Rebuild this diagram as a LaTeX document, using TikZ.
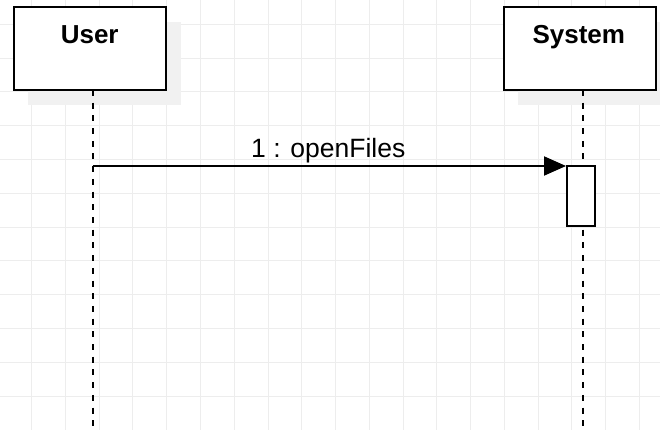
\documentclass[tikz,border=0pt]{standalone}
\usepackage{fontspec}
\setmainfont{Liberation Sans}
\usetikzlibrary{arrows.meta}
\definecolor{gridc}{RGB}{237,237,237}
\definecolor{shadowc}{RGB}{241,241,241}
\begin{document}
\begin{tikzpicture}[x=1pt,y=-1pt,
  actorbox/.style={draw=black, line width=2pt, fill=white, minimum width=152pt, minimum height=83pt, inner sep=0pt},
  actbox/.style={draw=black, line width=2pt, fill=white, minimum width=28pt, minimum height=60pt, inner sep=0pt},
  lifeline/.style={line width=2pt, dash pattern=on 6pt off 6.7pt},
  msg/.style={line width=2pt, -{Triangle[length=22pt,width=19pt]}},
  titletext/.style={font=\bfseries\fontsize{26}{30}\selectfont, anchor=base, inner sep=0pt},
  msglabel/.style={font=\fontsize{26.5}{30}\selectfont, anchor=base, inner sep=0pt},
  gridline/.style={draw=gridc, line width=1pt}]
\useasboundingbox (0,0) rectangle (660,430);
\fill[white] (0,0) rectangle (660,430);
% grid
\foreach \i in {1,...,19} { \draw[gridline] ({-2.06+33.76*\i},0) -- ({-2.06+33.76*\i},430); }
\foreach \j in {1,...,12} { \draw[gridline] (0,{-9.5+33.8*\j}) -- (660,{-9.5+33.8*\j}); }
% shadows
\fill[shadowc] (28.3,21.7) rectangle (180.7,105);
\fill[shadowc] (518.3,22.3) rectangle (671,105);
% actor boxes
\node[actorbox] (user) at (89.5,48.4) {};
\node[actorbox] (system) at (579.7,48.6) {};
\node[titletext] (usertxt) at (89.7,43.3) {User};
\node[titletext] (systemtxt) at (578.8,43.3) {System};
% lifelines
\coordinate (uTop) at (92.7,90);
\coordinate (uBot) at (92.7,432);
\coordinate (sTop) at (583.3,90);
\coordinate (sBot) at (583.3,432);
\draw[lifeline] (uTop) -- (uBot);
\draw[lifeline] (sTop) -- (sBot);
% activation
\node[actbox] (act) at (581,196) {};
% message
\coordinate (m1start) at (92.7,166);
\draw[msg] (m1start) -- (m1start -| act.west);
\node[msglabel] (m1lbl) at (328.3,157.3) {1 : openFiles};
\end{tikzpicture}
\end{document}
